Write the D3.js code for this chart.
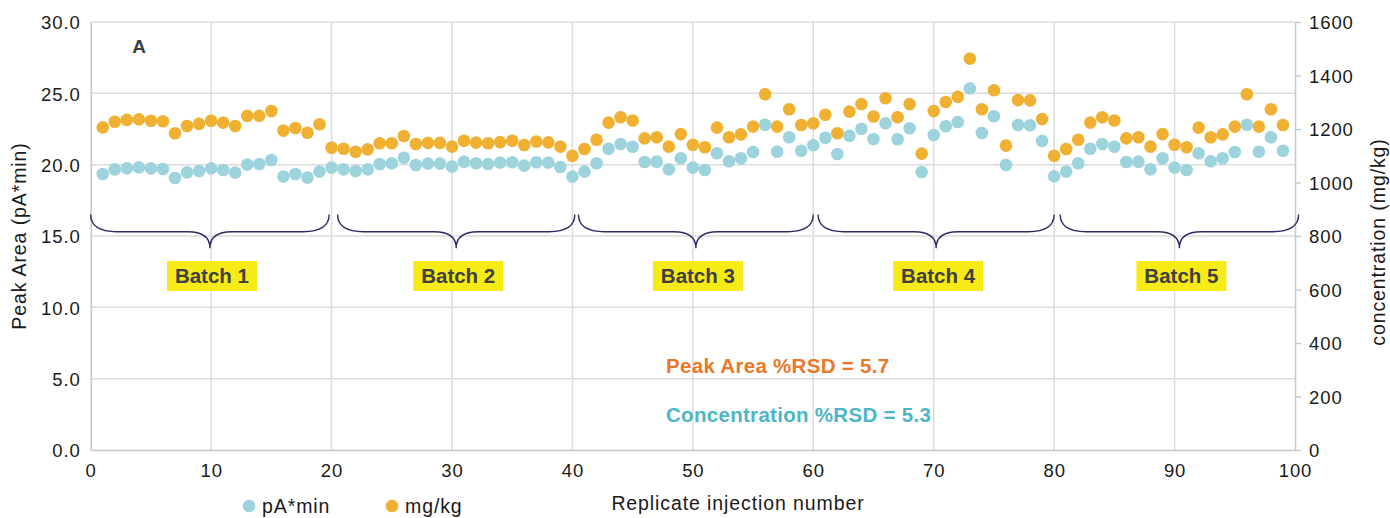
<!DOCTYPE html>
<html>
<head>
<meta charset="utf-8">
<script src="https://cdn.jsdelivr.net/npm/d3@7"></script>
<style>
  body { margin: 0; background: #fff; }
  text { font-family: "Liberation Sans", Arial, sans-serif; }
</style>
</head>
<body>
<svg id="chart" width="1390" height="518"></svg>
<script>
// Peak area (pA*min), replicate injections 1..99
const peakArea = [
  19.35, 19.67, 19.74, 19.81, 19.74, 19.70, 19.07, 19.46, 19.56, 19.74,
  19.63, 19.44, 20.00, 20.05, 20.33, 19.16, 19.35, 19.09, 19.51, 19.79,
  19.67, 19.56, 19.67, 20.05, 20.10, 20.49, 19.98, 20.07, 20.07, 19.86,
  20.21, 20.10, 20.05, 20.14, 20.17, 19.93, 20.17, 20.14, 19.84, 19.16,
  19.51, 20.10, 21.12, 21.45, 21.26, 20.19, 20.21, 19.67, 20.45, 19.79,
  19.63, 20.80, 20.24, 20.45, 20.89, 22.80, 20.91, 21.92, 20.98, 21.36,
  21.89, 20.75, 22.03, 22.52, 21.80, 22.90, 21.78, 22.55, 19.49, 22.08,
  22.69, 22.99, 25.35, 22.22, 23.39, 19.98, 22.78, 22.76, 21.66, 19.18,
  19.51, 20.10, 21.12, 21.45, 21.26, 20.19, 20.21, 19.67, 20.45, 19.79,
  19.63, 20.80, 20.24, 20.45, 20.89, 22.80, 20.91, 21.92, 20.98
];

// Concentration (mg/kg), replicate injections 1..99
const concentration = [
  1206, 1227, 1234, 1236, 1231, 1229, 1184, 1211, 1219, 1231,
  1224, 1211, 1249, 1249, 1267, 1194, 1204, 1186, 1218, 1130,
  1126, 1115, 1124, 1147, 1147, 1174, 1144, 1148, 1148, 1134,
  1156, 1149, 1147, 1151, 1156, 1140, 1153, 1150, 1134, 1100,
  1125, 1160, 1224, 1244, 1232, 1165, 1169, 1134, 1181, 1141,
  1132, 1205, 1169, 1180, 1209, 1330, 1209, 1274, 1215, 1221,
  1253, 1184, 1265, 1293, 1247, 1315, 1244, 1293, 1108, 1267,
  1301, 1320, 1463, 1274, 1345, 1138, 1308, 1307, 1237, 1100,
  1125, 1160, 1224, 1244, 1232, 1165, 1169, 1134, 1181, 1141,
  1132, 1205, 1169, 1180, 1209, 1330, 1209, 1274, 1215
];

const batchNames = ["Batch 1", "Batch 2", "Batch 3", "Batch 4", "Batch 5"];
const batchStart = [0, 20.5, 40.5, 60.4, 80.5];
const batchEnd = [19.8, 40.2, 60.0, 80.0, 100.3];

const leftTicks = [0, 5, 10, 15, 20, 25, 30];
const rightTicks = [0, 200, 400, 600, 800, 1000, 1200, 1400, 1600];
const xTicks = [0, 10, 20, 30, 40, 50, 60, 70, 80, 90, 100];

const blue = "#9dd3dd";
const orange = "#f0b133";
const gridColor = "#dcdcdc";

const svg = d3.select("#chart");
const plotL = 90.7, plotR = 1295, plotT = 22, plotB = 450;

const x = d3.scaleLinear().domain([0, 100]).range([plotL, plotR]);
const yL = d3.scaleLinear().domain([0, 30]).range([plotB, plotT]);
const yR = d3.scaleLinear().domain([0, 1600]).range([plotB, plotT]);

// grid
svg.append("g").selectAll("line").data(leftTicks.slice(1))
  .join("line")
  .attr("x1", plotL).attr("x2", plotR)
  .attr("y1", d => yL(d)).attr("y2", d => yL(d))
  .attr("stroke", gridColor).attr("stroke-width", 1.5);
svg.append("g").selectAll("line").data(xTicks.slice(1, -1))
  .join("line")
  .attr("x1", d => x(d)).attr("x2", d => x(d))
  .attr("y1", plotT).attr("y2", plotB)
  .attr("stroke", gridColor).attr("stroke-width", 1.5);

// axes
const axisStyle = g => {
  g.select(".domain").attr("stroke", "#c8c8c8").attr("stroke-width", 1.5);
  g.selectAll(".tick line").attr("stroke", "#c8c8c8").attr("stroke-width", 1.5);
  g.selectAll("text").attr("fill", "#1a1a1a").style("font-size", "18.5px").style("letter-spacing", "0.9px");
};

svg.append("g")
  .attr("transform", `translate(${plotL},0)`)
  .call(d3.axisLeft(yL).tickValues(leftTicks).tickFormat(d3.format(".1f")).tickSize(0).tickPadding(10))
  .call(axisStyle)
  .call(g => g.selectAll("text").attr("dy", "0.36em"));

svg.append("g")
  .attr("transform", `translate(${plotR},0)`)
  .call(d3.axisRight(yR).tickValues(rightTicks).tickFormat(d3.format("d")).tickSize(6).tickPadding(8).tickSizeOuter(0))
  .call(axisStyle)
  .call(g => g.selectAll("text").attr("dy", "0.36em"));

svg.append("g")
  .attr("transform", `translate(0,${plotB})`)
  .call(d3.axisBottom(x).tickValues(xTicks).tickSize(0).tickPadding(14))
  .call(axisStyle)
  .call(g => g.selectAll("text").attr("dy", "0.71em"));

// axis titles
svg.append("text")
  .attr("transform", `translate(26,${(plotT + plotB) / 2}) rotate(-90)`)
  .attr("text-anchor", "middle")
  .style("font-size", "19.5px").style("letter-spacing", "0.9px")
  .attr("fill", "#1a1a1a")
  .text("Peak Area (pA*min)");

svg.append("text")
  .attr("transform", `translate(1385,${(plotT + plotB) / 2 + 6}) rotate(-90)`)
  .attr("text-anchor", "middle")
  .style("font-size", "19.5px").style("letter-spacing", "0.9px")
  .attr("fill", "#1a1a1a")
  .text("concentration (mg/kg)");

svg.append("text")
  .attr("x", 738).attr("y", 510)
  .attr("text-anchor", "middle")
  .style("font-size", "19.5px").style("letter-spacing", "0.9px")
  .attr("fill", "#1a1a1a")
  .text("Replicate injection number");

// points
const idx = d3.range(1, 100);
svg.append("g").selectAll("circle").data(idx)
  .join("circle")
  .attr("cx", d => x(d)).attr("cy", d => yR(concentration[d - 1]))
  .attr("r", 6.3).attr("fill", orange);
svg.append("g").selectAll("circle").data(idx)
  .join("circle")
  .attr("cx", d => x(d)).attr("cy", d => yL(peakArea[d - 1]))
  .attr("r", 6.3).attr("fill", blue);

// batch braces
const yTopB = yL(16.5), yFlat = yL(15.3), yTip = yL(14.15);
batchNames.forEach((name, i) => {
  const x0 = x(batchStart[i]), x1 = x(batchEnd[i]), xm = (x0 + x1) / 2;
  const p = d3.path();
  p.moveTo(x0, yTopB);
  p.quadraticCurveTo(x0, yFlat, x0 + 26, yFlat);
  p.lineTo(xm - 22, yFlat);
  p.quadraticCurveTo(xm, yFlat, xm, yTip);
  p.quadraticCurveTo(xm, yFlat, xm + 22, yFlat);
  p.lineTo(x1 - 26, yFlat);
  p.quadraticCurveTo(x1, yFlat, x1, yTopB);
  svg.append("path").attr("d", p.toString())
    .attr("fill", "none").attr("stroke", "#2f2c64").attr("stroke-width", 1.4);

  svg.append("rect")
    .attr("x", xm - 43).attr("y", 261).attr("width", 90).attr("height", 30)
    .attr("fill", "#f6eb16");
  svg.append("text")
    .attr("x", xm + 2).attr("y", 283)
    .attr("text-anchor", "middle")
    .style("font-size", "20.5px").style("font-weight", "bold")
    .attr("fill", "#404040")
    .text(name);
});

// panel letter
svg.append("text")
  .attr("x", 139).attr("y", 53)
  .attr("text-anchor", "middle")
  .style("font-size", "19px").style("font-weight", "bold")
  .attr("fill", "#404040")
  .text("A");

// RSD notes
svg.append("text")
  .attr("x", 666).attr("y", 373)
  .style("font-size", "20.5px").style("font-weight", "bold").style("letter-spacing", "0.3px")
  .attr("fill", "#e8782a")
  .text("Peak Area %RSD = 5.7");
svg.append("text")
  .attr("x", 666).attr("y", 422)
  .style("font-size", "20.5px").style("font-weight", "bold").style("letter-spacing", "0.3px")
  .attr("fill", "#4db5c6")
  .text("Concentration %RSD = 5.3");

// legend
const legend = [
  { label: "pA*min", color: blue, cx: 249 },
  { label: "mg/kg", color: orange, cx: 392 }
];
legend.forEach(l => {
  svg.append("circle").attr("cx", l.cx).attr("cy", 506).attr("r", 6.3).attr("fill", l.color);
  svg.append("text")
    .attr("x", l.cx + 13).attr("y", 513)
    .style("font-size", "19.5px").style("letter-spacing", "0.9px")
    .attr("fill", "#1a1a1a")
    .text(l.label);
});
</script>
</body>
</html>
